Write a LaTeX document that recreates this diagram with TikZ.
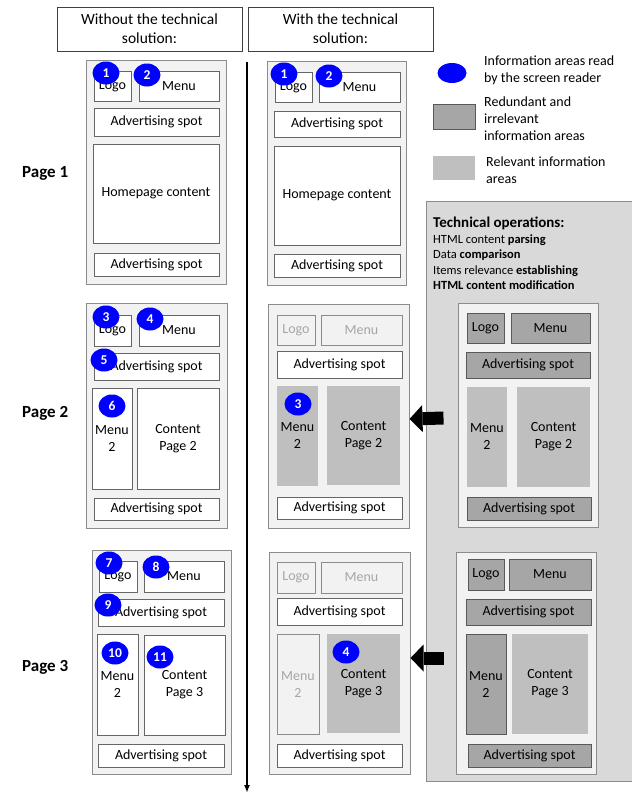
\documentclass[tikz,border=0pt]{standalone}
\usepackage{fontspec}
\setmainfont{Carlito}
\usetikzlibrary{positioning,shapes.geometric,arrows.meta}

\definecolor{pagegrey}{HTML}{F2F2F2}
\definecolor{darkarea}{HTML}{A6A6A6}
\definecolor{lightarea}{HTML}{BFBFBF}
\definecolor{panelgrey}{HTML}{D9D9D9}
\definecolor{linegrey}{HTML}{8C8C8C}
\definecolor{readblue}{HTML}{0000FF}

\tikzset{
  corners/.style n args={4}{at={({(#1+#3)/2},{(#2+#4)/2})}, minimum width={#3-#1}, minimum height={#4-#2}},
  page/.style={draw=linegrey, fill=pagegrey, line width=1pt, inner sep=0pt},
  area/.style={draw=black!60, fill=white, line width=0.9pt, inner sep=0pt, align=center, font=\fontsize{14}{17}\selectfont},
  skipped/.style={area, fill=pagegrey, draw=linegrey, text=darkarea},
  relevant/.style={area, draw=none, fill=lightarea},
  redundant/.style={area, fill=darkarea, draw=black!65},
  readmark/.style={ellipse, fill=readblue, minimum width=27pt, minimum height=23pt, inner sep=0pt, text=white, font=\fontsize{13.5}{14}\selectfont\bfseries},
  header/.style={draw=black!75, line width=0.9pt, inner sep=0pt, align=center, font=\fontsize{15.5}{19}\selectfont},
  pagelabel/.style={inner sep=0pt, anchor=west, font=\fontsize{17}{20}\selectfont\bfseries},
  legendtext/.style={inner sep=0pt, anchor=west, align=left, font=\fontsize{14}{17}\selectfont},
  blockarrow/.style={line width=13pt, -{Triangle[length=13pt,width=27pt,line width=0pt]}},
}

\begin{document}
\begin{tikzpicture}[x=1pt,y=-1pt]
\useasboundingbox (0,0) rectangle (632,793);

% headers and page labels
\node[header, corners={57}{7}{242}{51}] (hleft) {Without the technical\\solution:};
\node[header, corners={248}{7}{433}{51}] (hright) {With the technical\\solution:};
\node[pagelabel] (lab1) at (22,173) {Page 1};
\node[pagelabel] (lab2) at (22,413) {Page 2};
\node[pagelabel] (lab3) at (22,667) {Page 3};

% legend
\node[readmark, minimum width=29pt, minimum height=20pt] (legblue) at (452,73) {};
\node[legendtext] (legbluetext) at (484,70.5) {Information areas read\\by the screen reader};
\node[redundant, corners={433}{104}{475}{129}] (legdark) {};
\node[legendtext] (legdarktext) at (484,118.5) {Redundant and\\irrelevant\\information areas};
\node[relevant, corners={433}{156}{475}{180}] (leglight) {};
\node[legendtext] (leglighttext) at (486,170.5) {Relevant information\\areas};

% technical operations panel
\fill[panelgrey] (426,201) rectangle (632,781);
\draw[linegrey, line width=1pt] (632,201) -- (426,201) -- (426,781) -- (632,781);
\node[inner sep=0pt, anchor=base west, font=\fontsize{15}{18}\selectfont\bfseries] (optitle) at (433,227) {Technical operations:};
\node[inner sep=0pt, anchor=north west, align=left, font=\fontsize{12.5}{15.5}\selectfont] (oplist) at (433,234.5)
  {HTML content \textbf{parsing}\\Data \textbf{comparison}\\Items relevance \textbf{establishing}\\\textbf{HTML content modification}};

% page 1, without
\node[page, corners={86}{60}{226}{284}] (l1) {};
\node[area, corners={94}{71}{131}{101}] (l1logo) {Logo};
\node[area, corners={139}{71}{219}{101}] (l1menu) {Menu};
\node[area, corners={94}{108}{219}{136}] (l1adtop) {Advertising spot};
\node[area, corners={93}{144}{219}{243}] (l1home) {Homepage content};
\node[area, corners={94}{253}{219}{276}] (l1adbot) {Advertising spot};
\node[readmark] (n1) at (106,73) {1};
\node[readmark] (n2) at (147,75) {2};

% page 1, with
\node[page, corners={267}{61}{406}{285}] (m1) {};
\node[area, corners={275}{72}{312}{102}] (m1logo) {Logo};
\node[area, corners={319}{72}{400}{102}] (m1menu) {Menu};
\node[area, corners={274}{111}{400}{137}] (m1adtop) {Advertising spot};
\node[area, corners={274}{146}{400}{245}] (m1home) {Homepage content};
\node[area, corners={274}{254}{400}{277}] (m1adbot) {Advertising spot};
\node[readmark] (k1) at (284,74) {1};
\node[readmark] (k2) at (329,76) {2};

% page 2, without
\node[page, corners={86}{303}{227}{528}] (l2) {};
\node[area, corners={94}{315}{131}{346}] (l2logo) {Logo};
\node[area, corners={139}{315}{219}{346}] (l2menu) {Menu};
\node[area, corners={94}{353}{219}{380}] (l2adtop) {Advertising spot};
\node[area, corners={92}{388}{132}{489}] (l2menutwo) {Menu\\2};
\node[area, corners={137}{388}{219}{489}] (l2content) {Content\\Page 2};
\node[area, corners={94}{498}{219}{520}] (l2adbot) {Advertising spot};
\node[readmark] (n3) at (106,317) {3};
\node[readmark] (n4) at (150,319) {4};
\node[readmark] (n5) at (104,360) {5};
\node[readmark] (n6) at (112,406) {6};

% page 2, with
\node[page, corners={268}{304}{409}{528}] (m2) {};
\node[skipped, corners={277}{315}{315}{345}] (m2logo) {Logo};
\node[skipped, corners={321}{315}{402}{345}] (m2menu) {Menu};
\node[area, corners={277}{351}{402}{378}] (m2adtop) {Advertising spot};
\node[relevant, corners={277}{386}{318}{486}] (m2menutwo) {Menu\\2};
\node[relevant, corners={327}{386}{400}{485}] (m2content) {Content\\Page 2};
\node[area, corners={277}{497}{402}{519}] (m2adbot) {Advertising spot};
\node[readmark] (k3) at (298,404) {3};

% page 2, after the operations
\node[page, corners={458}{303}{598}{527}] (r2) {};
\node[redundant, corners={467}{313}{504}{343}] (r2logo) {Logo};
\node[redundant, corners={511}{313}{590}{343}] (r2menu) {Menu};
\node[redundant, corners={466}{352}{590}{378}] (r2adtop) {Advertising spot};
\node[relevant, corners={467}{387}{507}{487}] (r2menutwo) {Menu\\2};
\node[relevant, corners={517}{387}{590}{487}] (r2content) {Content\\Page 2};
\node[redundant, corners={467}{497}{591}{520}] (r2adbot) {Advertising spot};

% page 3, without
\node[page, corners={92}{550}{231}{774}] (l3) {};
\node[area, corners={99}{561}{137}{592}] (l3logo) {Logo};
\node[area, corners={144}{561}{224}{592}] (l3menu) {Menu};
\node[area, corners={98}{599}{224}{626}] (l3adtop) {Advertising spot};
\node[area, corners={97}{634}{138}{735}] (l3menutwo) {Menu\\2};
\node[area, corners={144}{635}{225}{735}] (l3content) {Content\\Page 3};
\node[area, corners={98}{744}{224}{767}] (l3adbot) {Advertising spot};
\node[readmark] (n7) at (109,563) {7};
\node[readmark] (n8) at (156,567) {8};
\node[readmark] (n9) at (108,605) {9};
\node[readmark] (n10) at (115,653) {10};
\node[readmark] (n11) at (160,657) {11};

% page 3, with
\node[page, corners={269}{552}{410}{774}] (m3) {};
\node[skipped, corners={277}{562}{315}{593}] (m3logo) {Logo};
\node[skipped, corners={321}{562}{402}{593}] (m3menu) {Menu};
\node[area, corners={277}{598}{402}{625}] (m3adtop) {Advertising spot};
\node[skipped, corners={277}{634}{319}{734}] (m3menutwo) {Menu\\2};
\node[relevant, corners={327}{634}{400}{733}] (m3content) {Content\\Page 3};
\node[area, corners={277}{744}{402}{767}] (m3adbot) {Advertising spot};
\node[readmark] (k4) at (346,652) {4};

% page 3, after the operations
\node[page, corners={456}{552}{596}{774}] (r3) {};
\node[redundant, corners={468}{559}{504}{590}] (r3logo) {Logo};
\node[redundant, corners={509}{559}{591}{590}] (r3menu) {Menu};
\node[redundant, corners={466}{599}{591}{625}] (r3adtop) {Advertising spot};
\node[redundant, corners={466}{634}{506}{734}] (r3menutwo) {Menu\\2};
\node[relevant, corners={512}{634}{588}{734}] (r3content) {Content\\Page 3};
\node[redundant, corners={468}{744}{591}{767}] (r3adbot) {Advertising spot};

% arrows
\coordinate (axtop) at (247,62);
\coordinate (axbot) at (247,793);
\draw[line width=1.8pt, -{Latex[length=8pt,width=6pt]}] (axtop) -- (axbot);
\draw[blockarrow] ([xshift=-14pt,yshift=-3pt]r2.west) -- ([yshift=-3pt]m2.east);
\draw[blockarrow] ([xshift=-12pt,yshift=5pt]r3.west) -- ([yshift=5pt]m3.east);
\end{tikzpicture}
\end{document}
